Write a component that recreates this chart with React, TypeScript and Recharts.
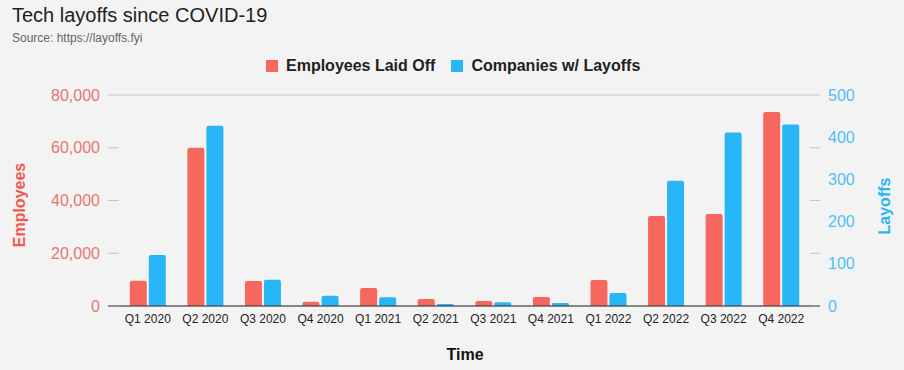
import { Bar, BarChart, CartesianGrid, XAxis, YAxis } from "recharts";

const quarters = [
  "Q1 2020", "Q2 2020", "Q3 2020", "Q4 2020",
  "Q1 2021", "Q2 2021", "Q3 2021", "Q4 2021",
  "Q1 2022", "Q2 2022", "Q3 2022", "Q4 2022",
];
const employeesLaidOff = [9600, 60000, 9500, 1650, 6800, 2650, 1900, 3400, 9850, 34100, 34900, 73600];
const companiesWithLayoffs = [121, 427, 62, 24, 21, 5, 9, 7, 31, 297, 411, 430];

const employeeTicks = [0, 20000, 40000, 60000, 80000];
const layoffTicks = [0, 100, 200, 300, 400, 500];

const data = quarters.map((q, i) => ({
  quarter: q,
  employees: employeesLaidOff[i],
  companies: companiesWithLayoffs[i],
}));

const RED = "#f6685e";
const BLUE = "#29b6f6";
const FONT = '"Liberation Sans", Arial, sans-serif';
const PLOT_RIGHT = 810; // right edge of plot, for the gridline stubs

// left tick: label + short gridline stubs outside the plot on both sides
function LeftTick(props: any) {
  const { x, y, payload } = props;
  const c = payload.value === 0 ? "#333" : "#c4c4c4";
  return (
    <g>
      <line x1={x + 8} x2={x + 19} y1={y} y2={y} stroke={c} />
      <line x1={PLOT_RIGHT} x2={PLOT_RIGHT + 10} y1={y} y2={y} stroke={c} />
      <text x={x} y={y} dy="0.355em" textAnchor="end" fill="#e8766d" fontSize={16} fontFamily={FONT}>
        {payload.value.toLocaleString("en-US")}
      </text>
    </g>
  );
}

function LegendItem({ color, label }: { color: string; label: string }) {
  return (
    <div style={{ display: "flex", alignItems: "center", marginRight: 16 }}>
      <div style={{ width: 12, height: 12, background: color, marginRight: 8 }} />
      <span style={{ fontSize: 16, fontWeight: "bold", color: "#222", lineHeight: "14px" }}>{label}</span>
    </div>
  );
}

export default function App() {
  return (
    <div
      style={{
        position: "absolute",
        left: 0,
        top: 0,
        width: 904,
        height: 370,
        background: "#f3f3f3",
        fontFamily: FONT,
        overflow: "hidden",
      }}
    >
      <div style={{ position: "absolute", left: 12, top: 4, fontSize: 20, lineHeight: "23px", color: "#222" }}>
        Tech layoffs since COVID-19
      </div>
      <div style={{ position: "absolute", left: 12, top: 31, fontSize: 12, lineHeight: "14px", color: "#666" }}>
        Source: https://layoffs.fyi
      </div>
      <div style={{ position: "absolute", left: 266, top: 59, display: "flex" }}>
        <LegendItem color={RED} label="Employees Laid Off" />
        <LegendItem color={BLUE} label="Companies w/ Layoffs" />
      </div>

      <BarChart
        width={904}
        height={370}
        data={data}
        margin={{ top: 95, right: 0, bottom: 9, left: 0 }}
        barGap={2}
        barCategoryGap="18.75%"
      >
        <CartesianGrid horizontal vertical={false} stroke="#c4c4c4" />
        <XAxis
          dataKey="quarter"
          height={55}
          axisLine={{ stroke: "#333" }}
          tickLine={false}
          tick={{ fill: "#222", fontSize: 12, fontFamily: FONT }}
          interval={0}
        />
        <YAxis
          yAxisId="emp"
          orientation="left"
          width={119}
          domain={[0, 80000]}
          ticks={employeeTicks}
          axisLine={false}
          tickLine={false}
          tickSize={11}
          tickMargin={8}
          tick={<LeftTick />}
        />
        <YAxis
          yAxisId="co"
          orientation="right"
          width={94}
          domain={[0, 500]}
          ticks={layoffTicks}
          axisLine={false}
          tickLine={false}
          tickSize={10}
          tickMargin={8}
          tick={{ fill: "#4fbff5", fontSize: 16, fontFamily: FONT }}
        />
        <Bar yAxisId="emp" dataKey="employees" fill={RED} radius={[2, 2, 0, 0]} isAnimationActive={false} />
        <Bar yAxisId="co" dataKey="companies" fill={BLUE} radius={[2, 2, 0, 0]} isAnimationActive={false} />
      </BarChart>

      <div
        style={{
          position: "absolute",
          left: 20,
          top: 205,
          transform: "translate(-50%, -50%) rotate(-90deg)",
          fontSize: 16,
          fontWeight: "bold",
          color: "#ef5a50",
          whiteSpace: "nowrap",
        }}
      >
        Employees
      </div>
      <div
        style={{
          position: "absolute",
          left: 885,
          top: 206,
          transform: "translate(-50%, -50%) rotate(-90deg)",
          fontSize: 16,
          fontWeight: "bold",
          color: BLUE,
          whiteSpace: "nowrap",
        }}
      >
        Layoffs
      </div>
      <div
        style={{
          position: "absolute",
          left: 465,
          top: 355,
          transform: "translate(-50%, -50%)",
          fontSize: 16,
          fontWeight: "bold",
          color: "#111",
          whiteSpace: "nowrap",
        }}
      >
        Time
      </div>
    </div>
  );
}
